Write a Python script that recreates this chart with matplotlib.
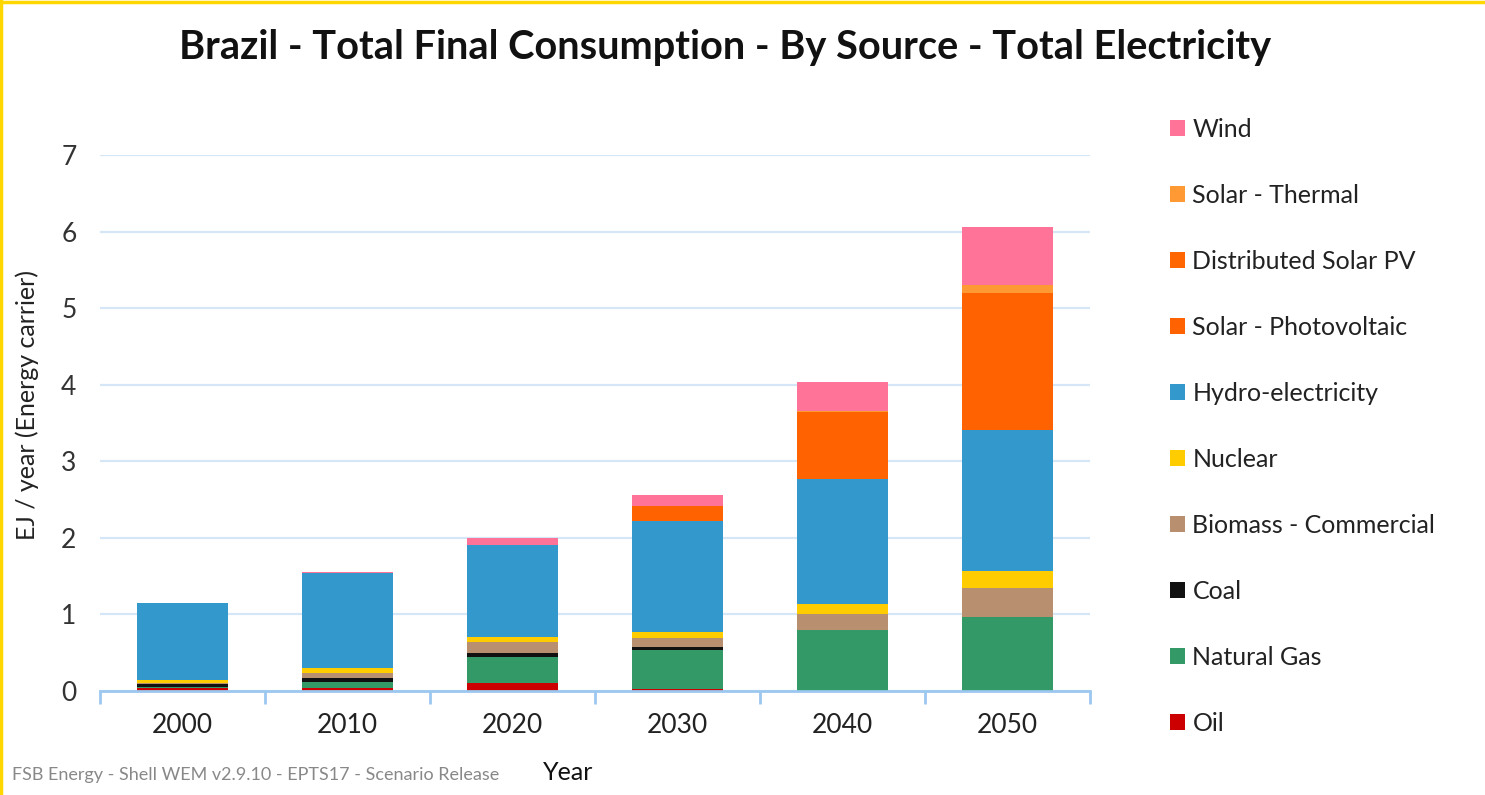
import matplotlib
matplotlib.use("Agg")
import matplotlib.pyplot as plt
from matplotlib.lines import Line2D
from matplotlib.patches import Patch
import numpy as np

years = ["2000", "2010", "2020", "2030", "2040", "2050"]
sources = ["Oil", "Natural Gas", "Coal", "Biomass - Commercial", "Nuclear",
           "Hydro-electricity", "Solar - Photovoltaic", "Distributed Solar PV",
           "Solar - Thermal", "Wind"]
oil      = [0.04, 0.04, 0.10, 0.02, 0.00, 0.00]
gas      = [0.01, 0.08, 0.34, 0.52, 0.80, 0.96]
coal     = [0.04, 0.055, 0.05, 0.03, 0.00, 0.00]
biomass  = [0.02, 0.065, 0.15, 0.12, 0.20, 0.39]
nuclear  = [0.03, 0.065, 0.07, 0.08, 0.13, 0.22]
hydro    = [1.01, 1.24, 1.20, 1.45, 1.64, 1.84]
solar_pv = [0.00, 0.00, 0.00, 0.20, 0.87, 1.79]
dist_pv  = [0.00, 0.00, 0.00, 0.00, 0.00, 0.00]
solar_th = [0.00, 0.00, 0.00, 0.00, 0.02, 0.10]
wind     = [0.005, 0.01, 0.09, 0.14, 0.38, 0.76]
series = [oil, gas, coal, biomass, nuclear, hydro, solar_pv, dist_pv, solar_th, wind]
colors = ["#CC0000", "#339966", "#111111", "#B8906F", "#FFCC00",
          "#3399CC", "#FF6200", "#FF6600", "#FF9933", "#FF7399"]

font = ["Lato", "DejaVu Sans"]
plt.rcParams["font.family"] = font

fig = plt.figure(figsize=(14.85, 7.95), dpi=100)
ax = fig.add_axes([100/1485, 1 - 691/795, 990/1485, (691-155)/795])

x = np.arange(len(years))
bottom = np.zeros(len(years))
for vals, c, name in zip(series, colors, sources):
    ax.bar(x, vals, bottom=bottom, width=0.55, color=c, label=name, zorder=3)
    bottom += np.array(vals)

ax.set_xlim(-0.5, len(years) - 0.5)
ax.set_ylim(0, 7)
ax.set_yticks(range(0, 8))
ax.yaxis.grid(True, color="#D5E6F7", linewidth=1.6, zorder=0)
ax.set_axisbelow(True)
for s in ["top", "right", "left"]:
    ax.spines[s].set_visible(False)
ax.spines["bottom"].set_color("#9CC8F0")
ax.spines["bottom"].set_linewidth(2)
ax.spines["bottom"].set_zorder(4)
ax.set_xticks(x)
ax.set_xticklabels(years)
ax.set_xticks(np.arange(-0.5, len(years)), minor=True)
ax.tick_params(axis="x", which="major", length=0, pad=16, labelsize=19, labelcolor="#222222")
ax.tick_params(axis="x", which="minor", length=9, width=2, color="#9CC8F0", direction="out")
ax.tick_params(axis="y", length=0, pad=17, labelsize=19, labelcolor="#333333")

fig.text(27/1485, 1 - 405/795, "EJ / year (Energy carrier)", fontsize=18, rotation=90,
         ha="center", va="center", color="#222222")
fig.text(568/1485, 1 - 773/795, "Year", fontsize=18, ha="center", va="center", color="#111111")
fig.text(12/1485, 1 - 775/795, "FSB Energy - Shell WEM v2.9.10 - EPTS17 - Scenario Release",
         fontsize=13, ha="left", va="center", color="#888888")
fig.text(725/1485, 1 - 47/795, "Brazil - Total Final Consumption - By Source - Total Electricity",
         fontsize=28.6, fontweight="bold", ha="center", va="center", color="#111111")

handles = [Patch(facecolor=c, edgecolor="none") for c in colors][::-1]
labels = sources[::-1]
leg = fig.legend(handles, labels, loc="upper left", bbox_to_anchor=(1170/1485, 1 - 118/795),
                 frameon=False, fontsize=18, handlelength=0.6, handleheight=0.6,
                 handletextpad=0.3, labelspacing=1.72, borderpad=0, borderaxespad=0,
                 labelcolor="#222222")

fig.add_artist(Line2D([0, 1], [1 - 2/795, 1 - 2/795], transform=fig.transFigure,
                      color="#FFD700", linewidth=2.5))
fig.add_artist(Line2D([1/1485, 1/1485], [0, 1], transform=fig.transFigure,
                      color="#FFD700", linewidth=2.5))

fig.savefig("out.png", dpi=100, facecolor="white")
